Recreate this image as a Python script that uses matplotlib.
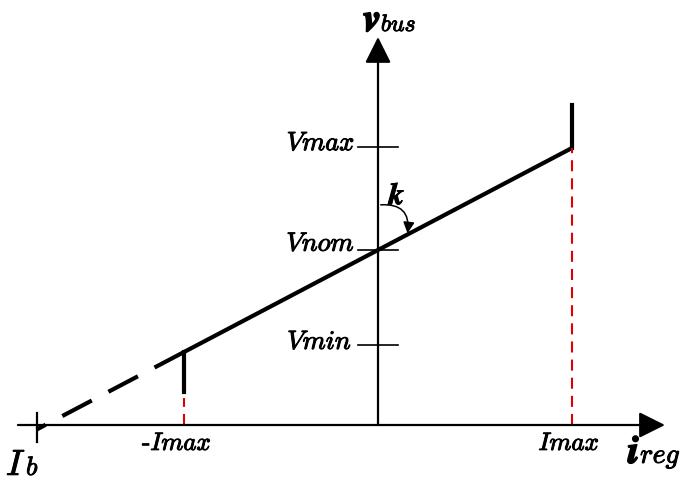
import matplotlib
matplotlib.use("Agg")
import matplotlib.pyplot as plt
import matplotlib.patheffects as pe
from matplotlib.patches import FancyArrowPatch

plt.rcParams['mathtext.fontset'] = 'cm'

# droop characteristic, per-unit: current in units of Imax, voltage in units of Vnom
i_max = 1.0
i_b = -1.76
v_nom = 1.0
v_max = 1.59
v_min = 0.457
k = 0.583            # droop slope
v_levels = [v_max, v_nom, v_min]
v_labels = [r'$Vmax$', r'$Vnom$', r'$Vmin$']
i_cut = 0.19         # bottom of the -Imax step
v_cut = 1.83         # top of the Imax step


def droop(i):
    return v_nom + k * i


heavy = [pe.withStroke(linewidth=0.7, foreground='black')]
bold = [pe.withStroke(linewidth=1.4, foreground='black')]

fig = plt.figure(figsize=(6.84, 4.84), dpi=100)
ax = fig.add_axes([0, 0, 1, 1])
ax.set_xlim(-1.9485, 1.5773)
ax.set_ylim(-0.3371, 2.4286)
ax.axis('off')

# axes with arrow heads
ax.annotate('', xy=(1.479, 0), xytext=(-1.856, 0),
            arrowprops=dict(arrowstyle='-|>,head_length=0.8,head_width=0.4',
                            lw=1.6, color='black', mutation_scale=20, shrinkA=0, shrinkB=0))
ax.annotate('', xy=(0, 2.217), xytext=(0, 0),
            arrowprops=dict(arrowstyle='-|>,head_length=0.8,head_width=0.4',
                            lw=1.6, color='black', mutation_scale=20, shrinkA=0, shrinkB=0))

# voltage ticks on the bus axis
for v in v_levels:
    ax.plot([-0.103, 0.103], [v, v], color='black', lw=1.2)
ax.text(-0.119, 1.61, v_labels[0], ha='right', va='center', fontsize=19, path_effects=heavy)
ax.text(-0.119, 1.035, v_labels[1], ha='right', va='center', fontsize=19, path_effects=heavy)
ax.text(-0.134, 0.474, v_labels[2], ha='right', va='center', fontsize=19, path_effects=heavy)

# Ib tick on the current axis
ax.plot([i_b, i_b], [0.069, -0.095], color='black', lw=1.6)

# droop line: dashed outside the regulation band, solid inside
ax.plot([-i_max, i_b], [droop(-i_max), droop(i_b)], color='black', lw=3,
        dashes=(8, 4.5))
ax.plot([-i_max, i_max], [droop(-i_max), droop(i_max)], color='black', lw=3,
        solid_capstyle='butt')
ax.plot([-i_max, -i_max], [droop(-i_max), i_cut], color='black', lw=3)
ax.plot([i_max, i_max], [droop(i_max), v_cut], color='black', lw=3)

# current limits
ax.plot([-i_max, -i_max], [0, 0.155], color='#e00000', lw=1.5, dashes=(5.3, 3.4))
ax.plot([i_max, i_max], [0, droop(i_max)], color='#e00000', lw=1.5, dashes=(5.3, 3.4))

# slope marker
arc = FancyArrowPatch((0, 1.257), (0.15, 1.08), connectionstyle='arc3,rad=-0.65',
                      arrowstyle='-|>,head_length=0.55,head_width=0.28',
                      mutation_scale=12, lw=1.1, color='black')
ax.add_patch(arc)
ax.text(0.1, 1.31, r'$\boldsymbol{k}$', ha='center', va='center', fontsize=22, path_effects=heavy)

# axis labels (large symbol + smaller name on the same baseline)
ax.text(0.015, 2.251, r'$\boldsymbol{v}$', ha='right', va='baseline', fontsize=28, path_effects=bold)
ax.text(0.015, 2.251, r'$bus$', ha='left', va='baseline', fontsize=17, path_effects=heavy)
ax.text(1.351, -0.217, r'$\boldsymbol{i}$', ha='right', va='baseline', fontsize=28, path_effects=bold)
ax.text(1.351, -0.217, r'$reg$', ha='left', va='baseline', fontsize=20, path_effects=heavy)
ax.text(-1.814, -0.286, r'$I$', ha='right', va='baseline', fontsize=26, path_effects=heavy)
ax.text(-1.814, -0.286, r'$b$', ha='left', va='baseline', fontsize=19, path_effects=heavy)
ax.text(-1.037, -0.103, r'$\text{-}Imax$', ha='center', va='center', fontsize=18, path_effects=heavy)
ax.text(0.985, -0.103, r'$Imax$', ha='center', va='center', fontsize=18, path_effects=heavy)

fig.savefig('out.png', dpi=100)
